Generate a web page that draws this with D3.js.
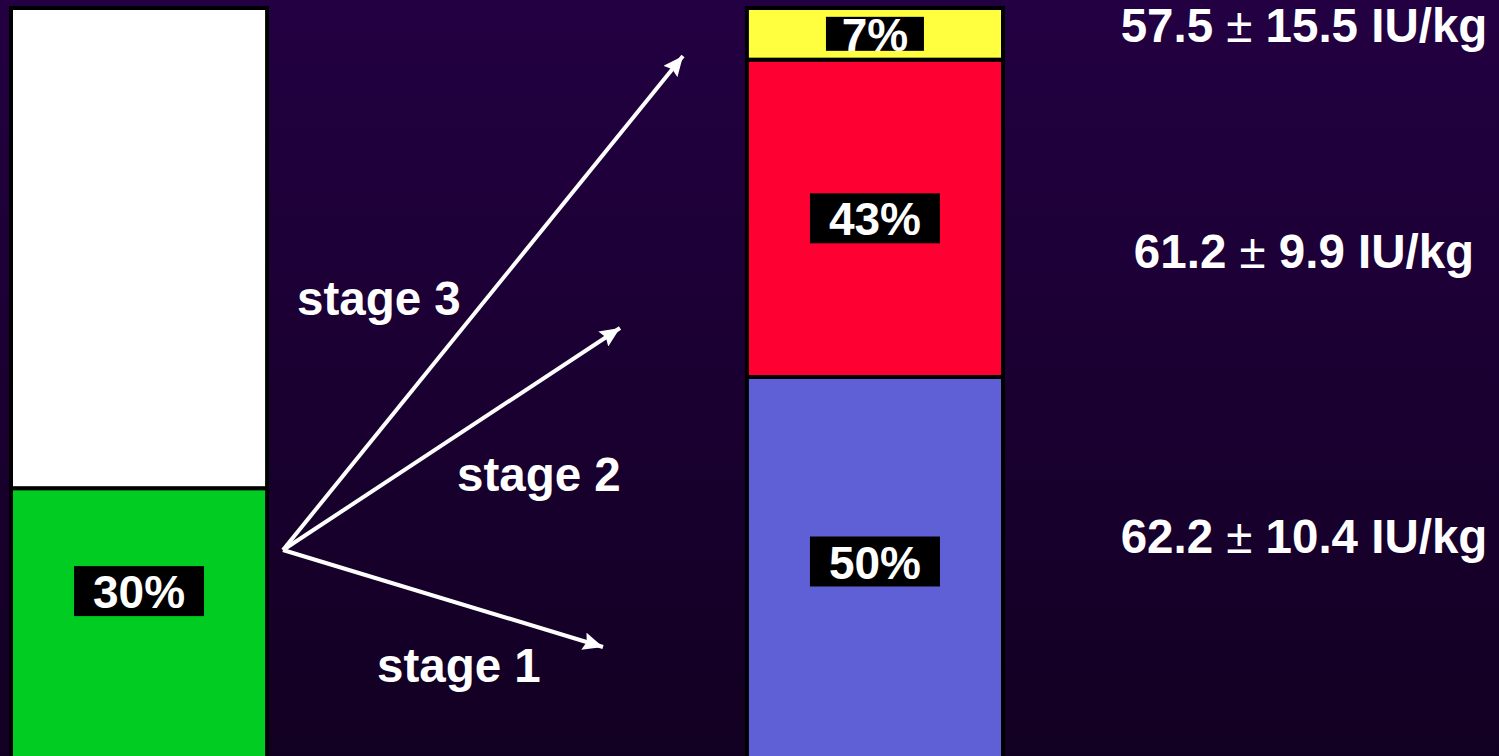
<!DOCTYPE html>
<html>
<head>
<meta charset="utf-8">
<script src="https://cdn.jsdelivr.net/npm/d3@7"></script>
<style>
html, body { margin: 0; padding: 0; overflow: hidden; background: #1b0033; }
svg { display: block; font-family: "Liberation Sans", Arial, Helvetica, sans-serif; font-weight: bold; }
</style>
</head>
<body>
<div id="chart"></div>
<script>
// left bar: all patients, bottom to top
const cohortGroups = ["staged", "other"];
const cohortShares = [30, 70];
const cohortColors = ["#00cc22", "#ffffff"];

// right bar: staged patients by stage, bottom to top
const stageNames = ["stage 1", "stage 2", "stage 3"];
const stageShares = [50, 43, 7];
const stageColors = ["#6060d6", "#ff0033", "#ffff40"];

// dose per stage (mean ± sd)
const doseMean = [62.2, 61.2, 57.5];
const doseSd = [10.4, 9.9, 15.5];
const doseUnit = "IU/kg";

const barNames = ["cohort", "stages"];

function init() {
    const W = 1499, H = 756;

    const svg = d3.select("#chart").append("svg")
        .attr("width", W)
        .attr("height", H);

    const defs = svg.append("defs");
    const grad = defs.append("linearGradient")
        .attr("id", "bg").attr("x1", 0).attr("y1", 0).attr("x2", 0).attr("y2", 1);
    grad.append("stop").attr("offset", "0%").attr("stop-color", "#230042");
    grad.append("stop").attr("offset", "100%").attr("stop-color", "#120022");

    defs.append("marker")
        .attr("id", "head")
        .attr("markerUnits", "userSpaceOnUse")
        .attr("viewBox", "0 0 20 18")
        .attr("markerWidth", 20).attr("markerHeight", 18)
        .attr("refX", 20).attr("refY", 9)
        .attr("orient", "auto")
        .append("path")
        .attr("d", "M0,0 L20,9 L0,18 L3,9 z")
        .attr("fill", "#fff");

    svg.append("rect").attr("width", W).attr("height", H).attr("fill", "url(#bg)");

    const x = d3.scaleBand()
        .domain(barNames)
        .range([11, 1003])
        .paddingInner(0.652);

    // the slide is not drawn to scale, so each bar gets its own scale
    const yCohort = d3.scaleLinear().domain([0, 100]).range([694, 8]);
    const yStage = d3.scaleLinear().domain([0, 100]).range([746, 8]);

    function stack(shares, colors) {
        const ends = d3.cumsum(shares);
        return shares.map((v, i) => ({ v: v, y0: ends[i] - v, y1: ends[i], color: colors[i], i: i }));
    }

    const bars = [
        { name: "cohort", y: yCohort, segs: stack(cohortShares, cohortColors), labelled: [0] },
        { name: "stages", y: yStage, segs: stack(stageShares, stageColors), labelled: [0, 1, 2] }
    ];

    bars.forEach(bar => {
        const g = svg.append("g");
        const y = bar.y;

        // lowest segment runs off the bottom of the slide
        g.selectAll("rect")
            .data(bar.segs)
            .join("rect")
            .attr("x", x(bar.name))
            .attr("width", x.bandwidth())
            .attr("y", d => y(d.y1))
            .attr("height", d => (d.i === 0 ? H + 10 : y(d.y0)) - y(d.y1))
            .attr("fill", d => d.color)
            .attr("stroke", "#000")
            .attr("stroke-width", 4);

        const labs = g.selectAll(".pct")
            .data(bar.segs.filter(d => bar.labelled.includes(d.i)))
            .join("g")
            .attr("class", "pct")
            .attr("transform", d => `translate(${x(bar.name) + x.bandwidth() / 2}, ${y((d.y0 + d.y1) / 2)})`);

        labs.append("rect")
            .attr("fill", "#000")
            .each(function(d) {
                const segH = y(d.y0) - y(d.y1);
                const small = segH < 80;
                d3.select(this)
                    .attr("x", small ? -49 : -65)
                    .attr("width", small ? 98 : 130)
                    .attr("y", small ? -17 : -25)
                    .attr("height", small ? 34 : 50);
            });

        labs.append("text")
            .attr("text-anchor", "middle")
            .attr("y", 17)
            .attr("fill", "#fff")
            .style("font-size", "46px")
            .text(d => d.v + "%");
    });

    // arrows from the staged group to each stage
    const arrowFrom = [283, 550];
    const arrowTips = [[603, 647], [620, 328], [683, 56]];
    const stageLabelPos = [[377, 682], [457, 491], [297, 315]];

    svg.selectAll(".arrow")
        .data(arrowTips)
        .join("line")
        .attr("class", "arrow")
        .attr("x1", arrowFrom[0]).attr("y1", arrowFrom[1])
        .attr("x2", d => d[0]).attr("y2", d => d[1])
        .attr("stroke", "#fff")
        .attr("stroke-width", 4)
        .attr("marker-end", "url(#head)");

    svg.selectAll(".stage")
        .data(stageNames)
        .join("text")
        .attr("class", "stage")
        .attr("x", (d, i) => stageLabelPos[i][0])
        .attr("y", (d, i) => stageLabelPos[i][1])
        .attr("fill", "#fff")
        .style("font-size", "47.5px")
        .text(d => d);

    // dose per stage on the right
    const doseY = [553, 268, 42];
    const dose = svg.selectAll(".dose")
        .data(doseMean)
        .join("text")
        .attr("class", "dose")
        .attr("x", 1304)
        .attr("y", (d, i) => doseY[i])
        .attr("text-anchor", "middle")
        .attr("fill", "#fff")
        .style("font-size", "47.5px");

    dose.append("tspan").text(d => d.toFixed(1) + " ");
    dose.append("tspan").style("font-weight", "normal").text("±");
    dose.append("tspan").text((d, i) => " " + doseSd[i].toFixed(1) + " " + doseUnit);
}

document.addEventListener("DOMContentLoaded", init);
</script>
</body>
</html>
